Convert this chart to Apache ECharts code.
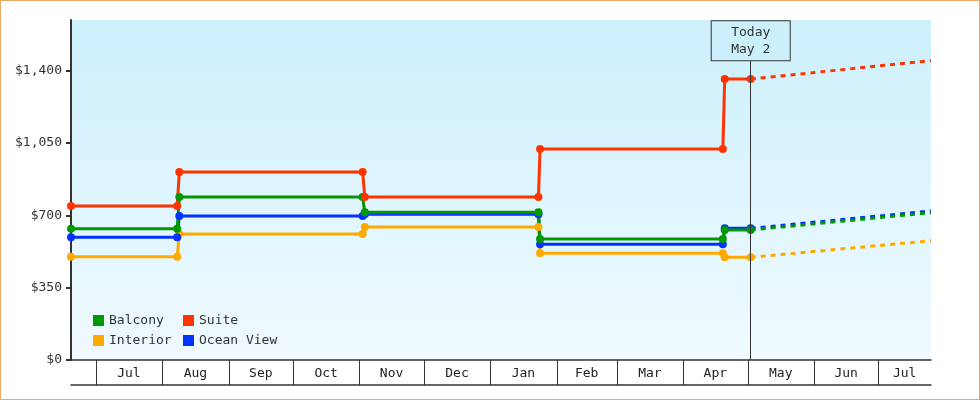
<!DOCTYPE html>
<html>
<head>
<meta charset="utf-8">
<script src="https://cdn.jsdelivr.net/npm/echarts@6/dist/echarts.min.js"></script>
<style>
  html, body { margin: 0; padding: 0; background: #fff; }
  #wrap { position: relative; width: 980px; height: 400px; }
  #chart { width: 980px; height: 400px; }
  #frame { position: absolute; left: 0; top: 0; width: 980px; height: 400px; box-sizing: border-box; border: 1px solid #e8aa66; pointer-events: none; }
</style>
</head>
<body>
<div id="wrap"><div id="chart"></div><div id="frame"></div></div>
<script>
// ---- data ----
const axisStart = '2024-06-19 11:30';
const axisEnd = '2025-07-25 14:00';
const today = '2025-05-02 12:00';
const todayLabel = 'Today\nMay 2';
// price change dates: last day at old price, first day at new price
const oldDates = ['2024-08-08 00:00', '2024-11-02 12:00', '2025-01-23 12:00', '2025-04-19 12:00'];
const newDates = ['2024-08-09 00:00', '2024-11-03 12:00', '2025-01-24 06:00', '2025-04-20 09:00'];
const balcony = [635, 789, 715, 586, 629];
const suite = [745, 909, 789, 1021, 1360];
const interior = [500, 610, 644, 516, 497];
const oceanView = [594, 697, 705, 560, 637];
const balconyForecast = 713;
const suiteForecast = 1448;
const interiorForecast = 577;
const oceanViewForecast = 721;
const monthStarts = ['2024-07-01', '2024-08-01', '2024-09-01', '2024-10-01', '2024-11-01', '2024-12-01',
  '2025-01-01', '2025-02-01', '2025-03-01', '2025-04-01', '2025-05-01', '2025-06-01', '2025-07-01'];
const monthLabels = ['Jul', 'Aug', 'Sep', 'Oct', 'Nov', 'Dec', 'Jan', 'Feb', 'Mar', 'Apr', 'May', 'Jun', 'Jul'];
const yTicks = [0, 350, 700, 1050, 1400];
const yMax = 1645;
const todayBoxBottom = 1450;

// ---- helpers ----
const t = s => new Date(s.length === 10 ? s + 'T00:00:00' : s.replace(' ', 'T')).getTime();
const FONT = '"DejaVu Sans Mono", monospace';

function stepData(vals) {
  const d = [[t(axisStart), vals[0]]];
  for (let i = 0; i < oldDates.length; i++) {
    d.push([t(oldDates[i]), vals[i]]);
    d.push([t(newDates[i]), vals[i + 1]]);
  }
  d.push([t(today), vals[vals.length - 1]]);
  return d;
}
function forecastData(vals, f) {
  return [[t(today), vals[vals.length - 1]], [t(axisEnd), f]];
}

const colors = { Balcony: '#009900', Suite: '#ff3300', Interior: '#ffaa00', 'Ocean View': '#0033ff' };
const seriesDefs = [
  ['Interior', interior, interiorForecast],
  ['Ocean View', oceanView, oceanViewForecast],
  ['Balcony', balcony, balconyForecast],
  ['Suite', suite, suiteForecast]
];

const series = [];
seriesDefs.forEach(([name, vals, f]) => {
  series.push({
    name: name + ' forecast', type: 'line', data: forecastData(vals, f),
    xAxisIndex: 0, yAxisIndex: 0, showSymbol: false, symbol: 'none', silent: true,
    lineStyle: { color: colors[name], width: 3, type: [5, 5] }, itemStyle: { color: colors[name] },
    animation: false, z: 2
  });
});
seriesDefs.forEach(([name, vals]) => {
  series.push({
    name: name, type: 'line', data: stepData(vals),
    xAxisIndex: 0, yAxisIndex: 0, symbol: 'circle', symbolSize: 8, showAllSymbol: true,
    lineStyle: { color: colors[name], width: 3 }, itemStyle: { color: colors[name] },
    animation: false, z: 3
  });
});
// today marker
series.push({
  type: 'line', data: [], xAxisIndex: 0, yAxisIndex: 0, silent: true, animation: false,
  markLine: {
    silent: true, symbol: ['none', 'none'], animation: false,
    lineStyle: { color: '#333', width: 1, type: 'solid' },
    label: {
      show: true, position: 'end', distance: 0, formatter: todayLabel,
      fontFamily: FONT, fontSize: 13, color: '#333', lineHeight: 17,
      backgroundColor: '#cceffc', borderColor: '#333', borderWidth: 1,
      width: 78, padding: [3, 0, 2, 0]
    },
    data: [[{ coord: [t(today), 0] }, { coord: [t(today), todayBoxBottom] }]]
  }
});
// month band
series.push({
  type: 'custom', xAxisIndex: 1, yAxisIndex: 1, silent: true, animation: false, clip: false,
  encode: { x: [0, 1] },
  data: monthStarts.map((s, i) => [t(s), i + 1 < monthStarts.length ? t(monthStarts[i + 1]) : t(axisEnd), i]),
  renderItem: function (params, api) {
    const cs = params.coordSys;
    const x0 = api.coord([api.value(0), 0])[0];
    const x1 = api.coord([api.value(1), 0])[0];
    const lo = Math.max(x0, cs.x), hi = Math.min(x1, cs.x + cs.width);
    const children = [];
    if (x0 >= cs.x && x0 <= cs.x + cs.width) {
      const xl = Math.round(x0) + 0.5;
      children.push({ type: 'line', shape: { x1: xl, y1: cs.y, x2: xl, y2: cs.y + cs.height }, style: { stroke: '#333', lineWidth: 1 } });
    }
    children.push({ type: 'text', style: { text: monthLabels[api.value(2)], x: (lo + hi) / 2, y: cs.y + cs.height / 2 + 1, align: 'center', verticalAlign: 'middle', font: '13px ' + FONT, fill: '#222' } });
    return { type: 'group', children: children };
  }
});

const chart = echarts.init(document.getElementById('chart'), null, { renderer: 'canvas' });
chart.setOption({
  animation: false,
  backgroundColor: '#fff',
  textStyle: { fontFamily: FONT },
  grid: [
    { left: 71, right: 49, top: 20, bottom: 40, show: true, borderWidth: 0,
      backgroundColor: { type: 'linear', x: 0, y: 0, x2: 0, y2: 1, colorStops: [{ offset: 0, color: '#ccf0fc' }, { offset: 1, color: '#f0faff' }] } },
    { left: 71, right: 49, top: 360, height: 25 }
  ],
  xAxis: [
    { type: 'time', gridIndex: 0, min: t(axisStart), max: t(axisEnd),
      axisLine: { show: true, onZero: false, lineStyle: { color: '#333', width: 1.5 } },
      axisTick: { show: false }, axisLabel: { show: false }, splitLine: { show: false } },
    { type: 'time', gridIndex: 1, min: t(axisStart), max: t(axisEnd), position: 'bottom',
      axisLine: { show: true, onZero: false, lineStyle: { color: '#333', width: 1.5 } },
      axisTick: { show: false }, axisLabel: { show: false }, splitLine: { show: false } }
  ],
  yAxis: [
    { type: 'value', gridIndex: 0, min: 0, max: yMax,
      axisLine: { show: true, lineStyle: { color: '#333', width: 2 } },
      axisTick: { show: true, length: 5, lineStyle: { color: '#333', width: 2 }, customValues: yTicks },
      axisLabel: { show: true, customValues: yTicks, margin: 9, fontFamily: FONT, fontSize: 13, color: '#333',
        formatter: v => '$' + v.toLocaleString('en-US') },
      splitLine: { show: false } },
    { type: 'value', gridIndex: 1, min: 0, max: 1, show: false }
  ],
  legend: [
    { data: ['Balcony', 'Interior'], orient: 'vertical', left: 93, top: 314, padding: 0, itemWidth: 11, itemHeight: 11, itemGap: 7,
      icon: 'rect', selectedMode: false, textStyle: { fontFamily: FONT, fontSize: 13, color: '#333' } },
    { data: ['Suite', 'Ocean View'], orient: 'vertical', left: 183, top: 314, padding: 0, itemWidth: 11, itemHeight: 11, itemGap: 7,
      icon: 'rect', selectedMode: false, textStyle: { fontFamily: FONT, fontSize: 13, color: '#333' } }
  ],
  series: series
});
</script>
</body>
</html>
